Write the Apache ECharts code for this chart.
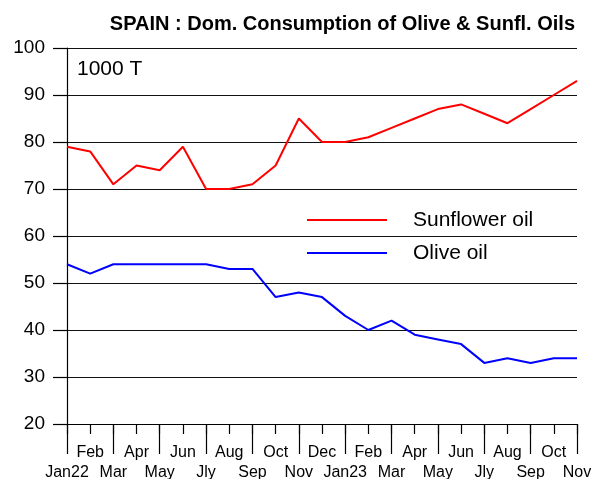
<!DOCTYPE html>
<html><head><meta charset="utf-8">
<script src="https://cdn.jsdelivr.net/npm/echarts@6/dist/echarts.min.js"></script>
<style>html,body{margin:0;padding:0;background:#fff}#c{width:595px;height:479px}</style>
</head><body><div id="c"></div>
<script>
const months = ['Jan22','Feb','Mar','Apr','May','Jun','Jly','Aug','Sep','Oct','Nov','Dec',
  'Jan23','Feb','Mar','Apr','May','Jun','Jly','Aug','Sep','Oct','Nov'];
const sunflower = [79,78,71,75,74,79,70,70,71,75,85,80,80,81,83,85,87,88,86,84,87,90,93];
const olive = [54,52,54,54,54,54,54,53,53,47,48,47,43,40,42,39,38,37,33,34,33,34,34];
const yTicks = {min:20, max:100, interval:10};
const FONT = 'Arial, "Liberation Sans", sans-serif';

const chart = echarts.init(document.getElementById('c'), null, {renderer:'canvas'});
chart.setOption({
  animation:false,
  backgroundColor:'#fff',
  title:{text:'SPAIN : Dom. Consumption of Olive & Sunfl. Oils', right:15, top:9,
    textStyle:{fontFamily:FONT, fontSize:20, fontWeight:'bold', color:'#000'}},
  graphic:[{type:'text', left:77, top:59, style:{text:'1000 T', font:'21px '+FONT, fill:'#000'}}],
  legend:{orient:'vertical', left:307, top:209, padding:0, itemWidth:80, itemHeight:2, itemGap:11, icon:'rect',
    textStyle:{fontFamily:FONT, fontSize:21, lineHeight:22, color:'#000', padding:[0,0,0,21]},
    data:['Sunflower oil','Olive oil']},
  grid:{left:67, right:18, top:48, bottom:55, containLabel:false, outerBoundsMode:'none'},
  xAxis:[{type:'category', data:months, boundaryGap:false,
      axisLine:{lineStyle:{color:'#000', width:1.2}},
      axisTick:{length:10, lineStyle:{color:'#000', width:1.2}},
      axisLabel:{interval:0, margin:19, lineHeight:20, fontFamily:FONT, fontSize:16, color:'#000',
        formatter:(v,i)=> i%2===0 ? '\n'+v : v},
      splitLine:{show:false}},
    {type:'category', data:months, boundaryGap:false, position:'bottom',
      axisLine:{show:false},
      axisTick:{length:30, interval:(i)=>i%2===0, lineStyle:{color:'#000', width:1.2}},
      axisLabel:{show:false}, splitLine:{show:false}}],
  yAxis:{type:'value', min:yTicks.min, max:yTicks.max, interval:yTicks.interval,
    axisLine:{show:true, lineStyle:{color:'#000', width:1.2}},
    axisTick:{show:true, length:14, lineStyle:{color:'#000', width:1.2}},
    axisLabel:{margin:22, fontFamily:FONT, fontSize:19, color:'#000'},
    splitLine:{lineStyle:{color:'#111', width:1.2}}},
  series:[
    {name:'Sunflower oil', type:'line', data:sunflower, symbol:'none', color:'#ff0000',
      lineStyle:{color:'#ff0000', width:2}},
    {name:'Olive oil', type:'line', data:olive, symbol:'none', color:'#0000ff',
      lineStyle:{color:'#0000ff', width:2}}
  ]
});
</script></body></html>
